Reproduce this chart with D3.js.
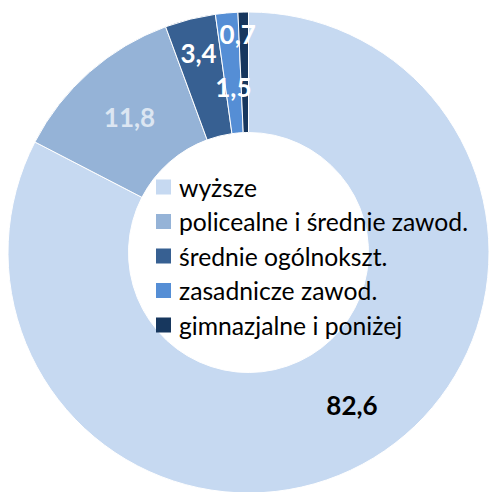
<!DOCTYPE html>
<html><head><meta charset="utf-8">
<script src="https://cdn.jsdelivr.net/npm/d3@7"></script>
<style>html,body{margin:0;padding:0;background:#fff;overflow:hidden}</style>
</head><body>
<svg id="chart" width="492" height="492"></svg>
<script>
const categories = ["wyższe", "policealne i średnie zawod.", "średnie ogólnokszt.", "zasadnicze zawod.", "gimnazjalne i poniżej"];
const values = [82.6, 11.8, 3.4, 1.5, 0.7];
const valueLabels = ["82,6", "11,8", "3,4", "1,5", "0,7"];
const colors = ["#C6D9F1", "#95B3D7", "#376092", "#558ED5", "#17375E"];
const labelColors = ["#000000", "#DCE6F2", "#FFFFFF", "#FFFFFF", "#FFFFFF"];

const svg = d3.select("#chart");
const cx = 248.5, cy = 252.5, outerR = 240.5, innerR = 120;
const g = svg.append("g").attr("transform", `translate(${cx},${cy})`);

const pie = d3.pie().value(d => d).sort(null).startAngle(0).endAngle(2 * Math.PI);
const arcs = pie(values);
const arc = d3.arc().innerRadius(innerR).outerRadius(outerR);

g.selectAll("path.slice").data(arcs).enter().append("path")
  .attr("class", "slice")
  .attr("d", arc)
  .attr("fill", (d, i) => colors[i])
  .attr("stroke", "#fff")
  .attr("stroke-width", 1);

// label placement: radius along mid-angle, with small tweaks
const labelR = [178, 180, 206, 166, 219];
const labelDx = [11, 0, 0, 0, -6];
g.selectAll("text.val").data(arcs).enter().append("text")
  .attr("class", "val")
  .attr("x", (d, i) => {
    const a = (d.startAngle + d.endAngle) / 2;
    return labelR[i] * Math.sin(a) + labelDx[i];
  })
  .attr("y", (d, i) => {
    const a = (d.startAngle + d.endAngle) / 2;
    return -labelR[i] * Math.cos(a);
  })
  .attr("text-anchor", "middle")
  .attr("dominant-baseline", "central")
  .attr("font-family", "Lato, 'Open Sans', sans-serif")
  .attr("font-weight", "bold")
  .attr("font-size", 26)
  .attr("fill", (d, i) => labelColors[i])
  .text((d, i) => valueLabels[i]);

// legend
const legend = svg.append("g").attr("transform", "translate(156,0)");
const rowY = d3.scalePoint().domain(categories).range([187, 325]);
const rows = legend.selectAll("g.row").data(categories).enter().append("g")
  .attr("class", "row")
  .attr("transform", d => `translate(0,${rowY(d)})`);
rows.append("rect").attr("x", 0).attr("y", -7.5).attr("width", 15).attr("height", 15)
  .attr("fill", (d, i) => colors[i]);
rows.append("text").attr("x", 23).attr("y", 0)
  .attr("dominant-baseline", "central")
  .attr("font-family", "Lato, 'Open Sans', sans-serif")
  .attr("font-size", 24.7)
  .attr("fill", "#000")
  .text(d => d);
</script>
</body></html>
